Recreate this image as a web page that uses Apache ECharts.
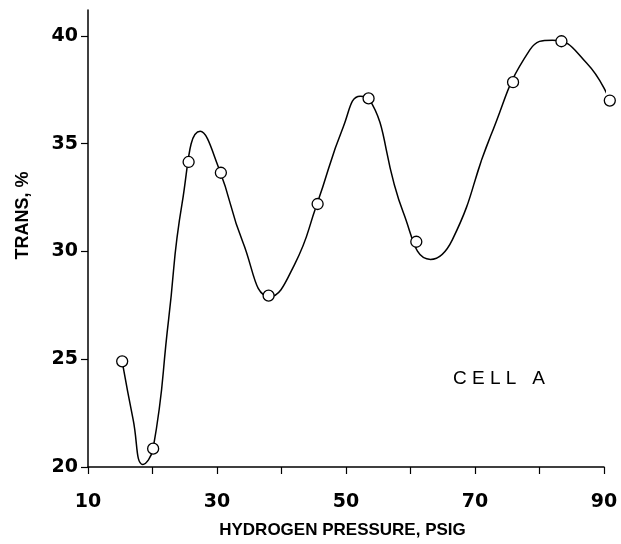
<!DOCTYPE html>
<html>
<head>
<meta charset="utf-8">
<script src="https://cdn.jsdelivr.net/npm/echarts@6/dist/echarts.min.js"></script>
<style>
  html, body { margin: 0; padding: 0; background: #fff; }
  #chart { width: 621px; height: 544px; }
</style>
</head>
<body>
<div id="chart"></div>
<script>
// measured points (open circles)
const pointX = [15.3, 20.1, 25.6, 30.6, 38.0, 45.6, 53.5, 60.9, 75.9, 83.4, 90.9];
const pointY = [24.9, 20.85, 34.15, 33.65, 27.95, 32.2, 37.1, 30.45, 37.85, 39.75, 37.0];

// hand-drawn curve (key points only)
const curveX = [15.3, 17.0, 18.5, 20.1, 22.5, 24.6, 27.4, 30.3, 34.0, 38.2,
  42.0, 45.5, 49.6, 52.2, 53.5, 58.9, 63.1, 66.5, 72.4, 78.5, 82.0, 87.3, 90.9];
const curveY = [24.89, 22.2, 20.12, 20.87, 26.85, 32.25, 35.57, 33.85, 30.44, 27.9,
  29.38, 32.2, 35.8, 37.2, 37.1, 31.79, 29.63, 30.55, 35.34, 39.35, 39.8, 38.74, 37.0];

const xLabels = [10, 30, 50, 70, 90];
const yTicks = [20, 25, 30, 35, 40];

const chart = echarts.init(document.getElementById("chart"));

const option = {
  animation: false,
  backgroundColor: "#fff",
  grid: { left: 88, right: 17, top: 10, bottom: 76 },
  xAxis: {
    type: "value",
    min: 10,
    max: 90,
    interval: 10,
    name: "HYDROGEN PRESSURE, PSIG",
    nameLocation: "middle",
    nameGap: 55,
    nameTextStyle: {
      fontFamily: "Liberation Sans",
      fontWeight: "bold",
      fontSize: 17,
      color: "#000",
      padding: [0, 7, 0, 0],
    },
    axisLine: { lineStyle: { color: "#000", width: 1.5 } },
    axisTick: { length: 7, lineStyle: { color: "#000", width: 1.2 } },
    axisLabel: {
      customValues: xLabels,
      fontFamily: "DejaVu Sans",
      fontWeight: "bold",
      fontSize: 19,
      color: "#000",
      margin: 26,
    },
    splitLine: { show: false },
  },
  yAxis: {
    type: "value",
    min: 20,
    max: 41.2,
    name: "TRANS, %",
    nameLocation: "middle",
    nameGap: 56,
    nameTextStyle: {
      fontFamily: "Liberation Sans",
      fontWeight: "bold",
      fontSize: 18,
      color: "#000",
      padding: [0, 0, 0, 46],
    },
    axisLine: { lineStyle: { color: "#000", width: 1.5 } },
    axisTick: { customValues: yTicks, length: 7, lineStyle: { color: "#000", width: 1.2 } },
    axisLabel: {
      customValues: yTicks,
      fontFamily: "DejaVu Sans",
      fontWeight: "bold",
      fontSize: 19,
      color: "#000",
      margin: 10,
    },
    splitLine: { show: false },
  },
  graphic: [
    {
      type: "text",
      left: 453,
      top: 369,
      style: {
        text: "C E L L   A",
        fontFamily: "Liberation Sans",
        fontSize: 19,
        fill: "#000",
      },
    },
  ],
  series: [
    {
      type: "line",
      data: curveX.map((x, i) => [x, curveY[i]]),
      smooth: 0.5,
      showSymbol: false,
      clip: false,
      lineStyle: { color: "#000", width: 1.5 },
      z: 2,
    },
    {
      type: "scatter",
      data: pointX.map((x, i) => [x, pointY[i]]),
      symbol: "circle",
      symbolSize: 11,
      clip: false,
      itemStyle: { color: "#fff", borderColor: "#000", borderWidth: 1.3, opacity: 1 },
      z: 3,
    },
  ],
};

chart.setOption(option);
</script>
</body>
</html>
